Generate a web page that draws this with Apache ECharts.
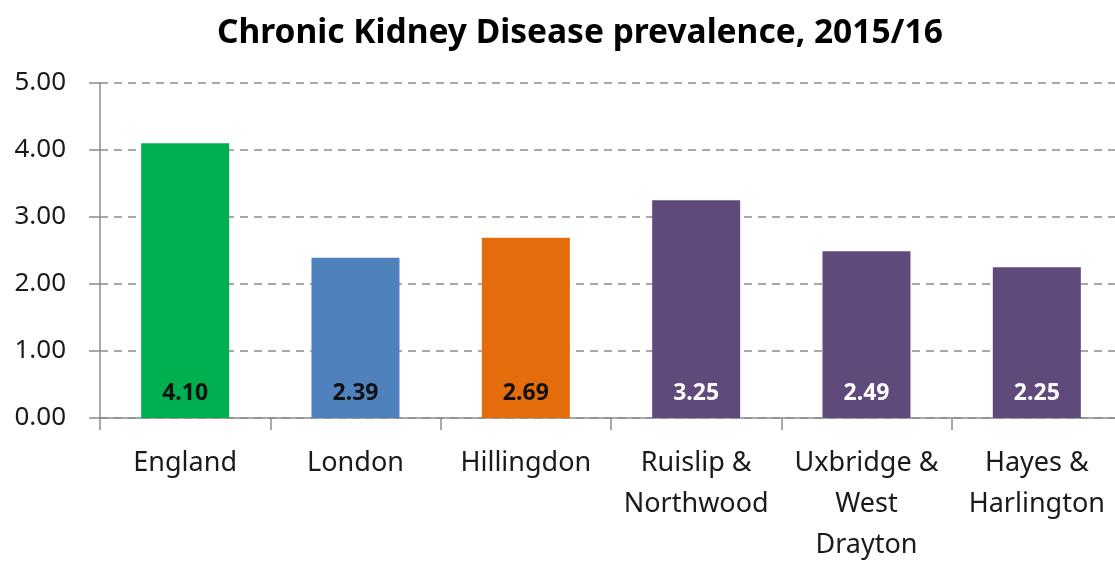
<!DOCTYPE html>
<html>
<head>
<meta charset="utf-8">
<script src="https://cdn.jsdelivr.net/npm/echarts@6/dist/echarts.min.js"></script>
<style>
  html, body { margin: 0; padding: 0; background: #fff; }
  #chart { width: 1115px; height: 562px; }
</style>
</head>
<body>
<div id="chart"></div>
<script>
// Chronic Kidney Disease prevalence (%) by area, 2015/16
const areas = ['England', 'London', 'Hillingdon', 'Ruislip &\nNorthwood', 'Uxbridge &\nWest\nDrayton', 'Hayes &\nHarlington'];
const prevalence = [4.10, 2.39, 2.69, 3.25, 2.49, 2.25];
const barColors = ['#00B050', '#4F81BD', '#E46C0A', '#604A7B', '#604A7B', '#604A7B'];
const labelColors = ['#111', '#111', '#111', '#fff', '#fff', '#fff'];
const yTicks = [0, 1, 2, 3, 4, 5];

const font = '"Noto Sans", "Open Sans", sans-serif';

const chart = echarts.init(document.getElementById('chart'), null, { renderer: 'canvas' });
chart.setOption({
  animation: false,
  backgroundColor: '#fff',
  title: {
    text: 'Chronic Kidney Disease prevalence, 2015/16',
    left: 212,
    top: 11,
    textStyle: { fontFamily: font, fontWeight: 'bold', fontSize: 33.5, color: '#000' }
  },
  grid: {
    left: 100, right: -7, top: 83, bottom: 144,
    containLabel: false, outerBoundsMode: 'none'
  },
  xAxis: {
    type: 'category',
    data: areas,
    axisLine: { lineStyle: { color: '#8c8c8c', width: 1.5 } },
    axisTick: { show: true, length: 12, lineStyle: { color: '#8c8c8c', width: 1.5 } },
    axisLabel: {
      fontFamily: font, fontSize: 27, color: '#1a1a1a',
      margin: 25, lineHeight: 41, interval: 0
    }
  },
  yAxis: {
    type: 'value',
    min: yTicks[0],
    max: yTicks[yTicks.length - 1],
    interval: 1,
    axisLine: { show: true, lineStyle: { color: '#8c8c8c', width: 1.5 } },
    axisTick: { show: true, length: 11, lineStyle: { color: '#8c8c8c', width: 1.5 } },
    axisLabel: {
      fontFamily: font, fontSize: 26, color: '#1a1a1a', margin: 34,
      formatter: v => v.toFixed(2)
    },
    splitLine: { lineStyle: { color: '#8c8c8c', width: 1.5, type: [8, 6] } }
  },
  series: [{
    type: 'bar',
    barWidth: 88,
    data: prevalence.map((v, i) => ({
      value: v,
      itemStyle: { color: barColors[i] },
      label: { color: labelColors[i] }
    })),
    label: {
      show: true,
      position: 'insideBottom',
      distance: 13,
      fontFamily: font,
      fontWeight: 'bold',
      fontSize: 23,
      formatter: p => p.value.toFixed(2)
    }
  }]
});
</script>
</body>
</html>
